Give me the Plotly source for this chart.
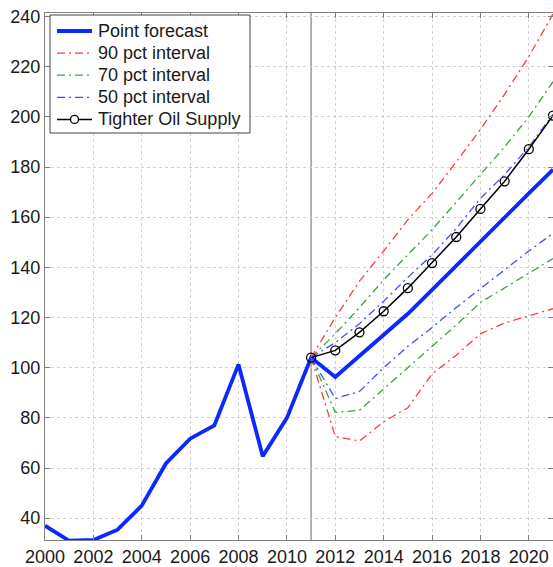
import plotly.graph_objects as go

# Historical + projected price path (point forecast)
years = list(range(2000, 2022))
point_forecast = [37, 31, 31.3, 35.4, 45, 61.8, 71.7, 77, 101.3, 64.7, 80,
                  104, 96.3, 104.6, 113, 121.5, 131, 140.7, 150.5, 160, 169.5, 179]

# Forecast horizon and interval bands
fc_years = list(range(2011, 2022))
p90_hi = [104, 120, 134.5, 146.5, 159, 169.5, 182, 195, 209, 224, 241]
p90_lo = [104, 72.5, 70.8, 78.5, 84, 97.5, 105, 113.5, 117.8, 120.7, 123.5]
p70_hi = [104, 113.5, 124, 135, 145, 155, 166, 177, 188, 200, 214]
p70_lo = [104, 82.2, 83, 91.5, 100, 108.5, 117, 126, 131.8, 137.5, 143.5]
p50_hi = [104, 110, 117.5, 126.5, 136, 145, 155.5, 167.5, 177, 188, 201]
p50_lo = [104, 87.7, 90.5, 100, 108.5, 116, 124, 131.5, 139, 146.5, 153.5]

# Alternative scenario
tighter_supply = [104, 106.9, 114.1, 122.5, 131.7, 141.7, 152.1, 163.3, 174.3, 187.1, 200.5]

x_ticks = list(range(2000, 2021, 2))
y_ticks = list(range(40, 241, 20))

FONT = "Liberation Sans, Arial, Helvetica, sans-serif"
DASHDOT = "8px,4px,2px,4px"

W, H = 553, 567
M_L, M_R, M_T, M_B = 45, 0, 13, 27
PLOT_W = W - M_L - M_R
PLOT_H = H - M_T - M_B

point_style = dict(color="#0a28ff", width=3.8)
band_specs = [
    ("90 pct interval", dict(color="#ff3b3b", width=1.3, dash=DASHDOT), p90_hi, p90_lo),
    ("70 pct interval", dict(color="#3aa53a", width=1.3, dash=DASHDOT), p70_hi, p70_lo),
    ("50 pct interval", dict(color="#4848ff", width=1.3, dash=DASHDOT), p50_hi, p50_lo),
]
tighter_style = dict(color="black", width=1.5)

fig = go.Figure()

fig.add_trace(go.Scatter(x=years, y=point_forecast, mode="lines",
                         name="Point forecast", line=point_style))

for name, style, hi, lo in band_specs:
    fig.add_trace(go.Scatter(x=fc_years, y=hi, mode="lines", name=name, line=style))
    fig.add_trace(go.Scatter(x=fc_years, y=lo, mode="lines", name=name, line=style))

fig.add_trace(go.Scatter(
    x=fc_years, y=tighter_supply, mode="lines+markers", name="Tighter Oil Supply",
    line=tighter_style,
    marker=dict(symbol="circle-open", size=9, color="black", line=dict(width=1.3))))

# Forecast origin marker
fig.add_shape(type="line", x0=fc_years[0], x1=fc_years[0], y0=0, y1=1,
              xref="x", yref="paper", line=dict(color="#9a9a9a", width=1.5),
              layer="below")


# Compact boxed legend (paper coordinates derived from pixel offsets)
def px_x(px):
    return (px - M_L) / PLOT_W


def px_y(py):
    return (H - M_B - py) / PLOT_H


legend_entries = [("Point forecast", point_style, False)]
legend_entries += [(name, style, False) for name, style, _, _ in band_specs]
legend_entries += [("Tighter Oil Supply", tighter_style, True)]

BOX_L, BOX_R, BOX_T, BOX_B = 50, 250, 15, 133
ROW0, ROW_STEP = 31, 22.1
fig.add_shape(type="rect", xref="paper", yref="paper",
              x0=px_x(BOX_L), x1=px_x(BOX_R), y0=px_y(BOX_B), y1=px_y(BOX_T),
              line=dict(color="#444", width=1), fillcolor="white", layer="above")
for i, (label, style, with_marker) in enumerate(legend_entries):
    cy = ROW0 + i * ROW_STEP
    fig.add_shape(type="line", xref="paper", yref="paper",
                  x0=px_x(57), x1=px_x(92), y0=px_y(cy), y1=px_y(cy),
                  line=style, layer="above")
    if with_marker:
        fig.add_shape(type="circle", xref="paper", yref="paper",
                      x0=px_x(70.5), x1=px_x(78.5), y0=px_y(cy + 4), y1=px_y(cy - 4),
                      line=dict(color="black", width=1.3), fillcolor="white",
                      layer="above")
    fig.add_annotation(text=label, xref="paper", yref="paper",
                       x=px_x(96), y=px_y(cy), xanchor="left", yanchor="middle",
                       showarrow=False,
                       font=dict(family=FONT, size=18, color="#1a1a1a"))

axis_common = dict(
    showline=True, linecolor="#808080", linewidth=1, mirror="ticks",
    ticks="inside", ticklen=5, tickcolor="#808080",
    showgrid=True, gridcolor="#d0d0d0", griddash="dot", gridwidth=1,
    zeroline=False, tickfont=dict(family=FONT, size=18, color="#1a1a1a"),
)

fig.update_layout(
    width=W, height=H,
    margin=dict(l=M_L, r=M_R, t=M_T, b=M_B),
    paper_bgcolor="white", plot_bgcolor="white",
    font=dict(family=FONT, size=18, color="#1a1a1a"),
    xaxis=dict(range=[2000, 2021], tickvals=x_ticks, **axis_common),
    yaxis=dict(range=[31.3, 241.4], tickvals=y_ticks, **axis_common),
    showlegend=False,
)

fig.write_html("out.html")
